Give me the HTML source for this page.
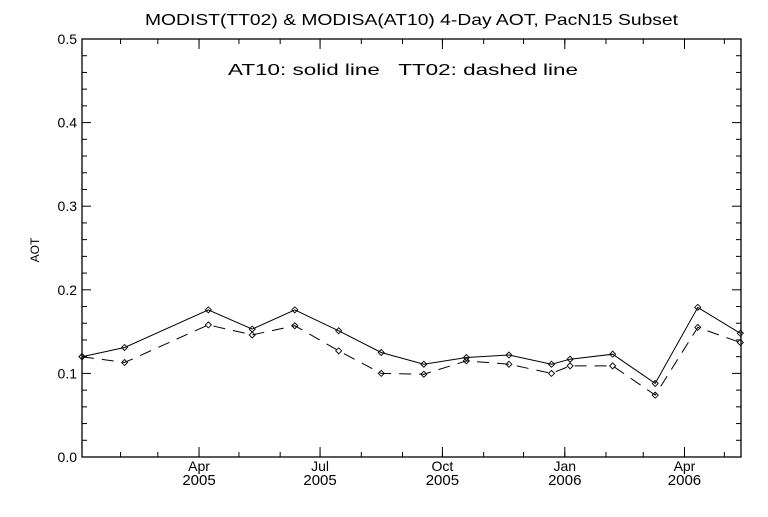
<!DOCTYPE html>
<html><head><meta charset="utf-8"><style>
body{margin:0;background:#fff}
svg text{font-family:"Liberation Sans",sans-serif;fill:#000}
</style></head><body>
<svg id="c" width="768" height="512" xmlns="http://www.w3.org/2000/svg">
<rect width="768" height="512" fill="#fff"/>
<text x="145" y="25" font-size="16" textLength="533" lengthAdjust="spacingAndGlyphs">MODIST(TT02) &amp; MODISA(AT10) 4-Day AOT, PacN15 Subset</text>
<text x="228" y="75" font-size="16" textLength="350" lengthAdjust="spacingAndGlyphs" xml:space="preserve">AT10: solid line   TT02: dashed line</text>
<text x="0" y="0" font-size="12" text-anchor="middle" transform="translate(39,250) rotate(-90)">AOT</text>
<g id="g"></g>
</svg>
<script>
const dayOffsets=[0,32,95,128,160,193,225,257,289,321,353,367,399,431,463,495];
const at10=[0.120,0.131,0.176,0.153,0.176,0.151,0.125,0.111,0.119,0.122,0.111,0.117,0.123,0.088,0.179,0.148];
const tt02=[0.120,0.113,0.158,0.146,0.157,0.127,0.100,0.099,0.115,0.111,0.100,0.109,0.109,0.074,0.155,0.137];
const yTicks=[0,0.1,0.2,0.3,0.4,0.5];
const yTickLabels=["0.0","0.1","0.2","0.3","0.4","0.5"];
const xMajorLabels=[["Apr","2005"],["Jul","2005"],["Oct","2005"],["Jan","2006"],["Apr","2006"]];
const xMajorDates=["2005-04-01","2005-07-01","2005-10-01","2006-01-01","2006-04-01"];
const start=Date.UTC(2005,0,3), dayMs=86400000, domainDays=495.5;
const L=82,R=741,T=39,B=457;
const X=d=>L+(d/domainDays)*(R-L);
const Y=v=>B-(v/0.5)*(B-T);
const dayOf=s=>(Date.parse(s+"T00:00:00Z")-start)/dayMs;
const NS="http://www.w3.org/2000/svg",g=document.getElementById('g');
function mk(t,a){const e=document.createElementNS(NS,t);for(const k in a)e.setAttribute(k,a[k]);g.appendChild(e);return e;}
let e=mk('rect',{x:L,y:T,width:R-L,height:B-T,fill:'none',stroke:'#000','stroke-width':1.3});


for(let i=0;i<=25;i++){const v=i*0.02,y=Y(v),len=(i%5==0)?9:5;
 mk('line',{x1:L,y1:y,x2:L+len,y2:y,stroke:'#000'});mk('line',{x1:R,y1:y,x2:R-len,y2:y,stroke:'#000'});}
yTicks.forEach((v,i)=>{e=mk('text',{x:L-5,y:Y(v)+5,'font-size':14,'text-anchor':'end'});e.textContent=yTickLabels[i];
 
 });
for(let m=1;m<=17;m++){const d=(Date.UTC(2005,m,1)-start)/dayMs;if(d<=0||d>=domainDays)continue;const x=X(d);
 mk('line',{x1:x,y1:B,x2:x,y2:B-5,stroke:'#000'});mk('line',{x1:x,y1:T,x2:x,y2:T+5,stroke:'#000'});}
xMajorDates.forEach((s,i)=>{const x=X(dayOf(s));
 mk('line',{x1:x,y1:B,x2:x,y2:B-10,stroke:'#000'});mk('line',{x1:x,y1:T,x2:x,y2:T+10,stroke:'#000'});
 e=mk('text',{x:x,y:B+14,'font-size':14,'text-anchor':'middle'});e.textContent=xMajorLabels[i][0];
 
 
 e=mk('text',{x:x,y:B+28,'font-size':15,'text-anchor':'middle'});e.textContent=xMajorLabels[i][1];
 
 });
function series(vals,name,dash){
 const pts=dayOffsets.map((d,i)=>X(d).toFixed(1)+','+Y(vals[i]).toFixed(1)).join(' ');
 const a={points:pts,fill:'none',stroke:'#000','stroke-width':1};if(dash)a['stroke-dasharray']=dash;
 e=mk('polyline',a);
 
 
 dayOffsets.forEach((d,i)=>{const x=X(d),y=Y(vals[i]);
  e=mk('path',{d:`M${x-3},${y}L${x},${y-3}L${x+3},${y}L${x},${y+3}Z`,fill:'none',stroke:'#000','stroke-width':0.9});
  
  });
}
series(at10,'at10',null);
series(tt02,'tt02','12,8');
</script>
</body></html>
